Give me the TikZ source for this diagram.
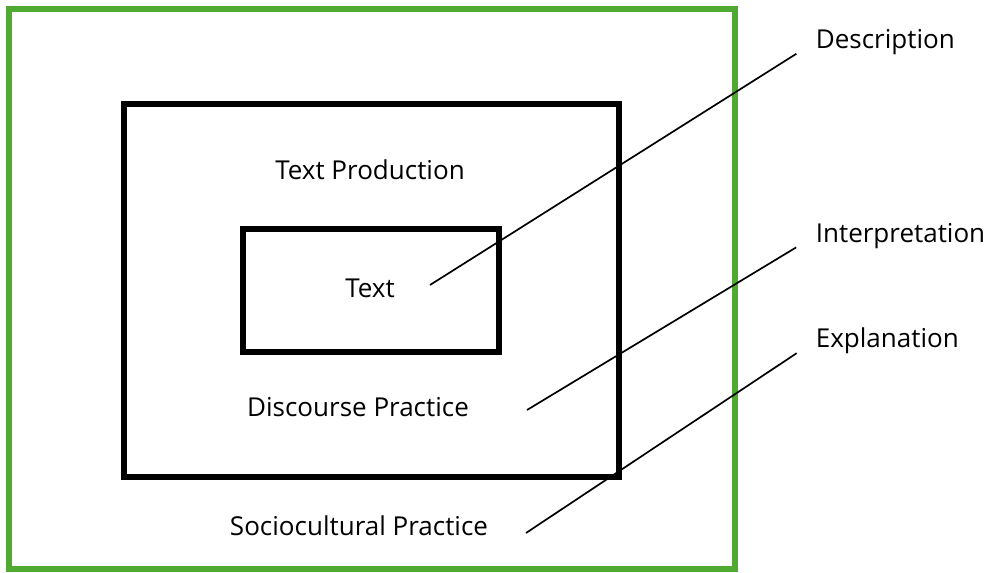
\documentclass[tikz,border=0pt]{standalone}
\usepackage{fontspec}
\setmainfont{Open Sans}
\usepackage{tikz}
\usetikzlibrary{positioning}

\definecolor{framegreen}{RGB}{80,170,50}

\begin{document}
\begin{tikzpicture}[
    x=0.025cm, y=-0.025cm,
    every node/.style={font=\fontsize{18.5}{22}\selectfont},
    frame box/.style={draw=framegreen, line width=1.3mm},
    level box/.style={draw=black, line width=1.3mm},
    level text/.style={inner sep=0pt},
    side label/.style={inner sep=0pt, anchor=west},
    every path/.style={line width=1.2pt}
    ]
    \useasboundingbox (0,0) rectangle (992,572);

    % Boxes
    \draw[frame box] (9,9) rectangle (735,569);
    \draw[level box] (124,104) rectangle (619,477);
    \draw[level box] (243,229) rectangle (499,352);

    % Texts in the boxes
    \node[level text] (production) at (370,170) {Text Production};
    \node[level text] (text) at (370,288) {Text};
    \node[level text] (discourse) at (358,407) {Discourse Practice};
    \node[level text] (sociocultural) at (359,526) {Sociocultural Practice};

    % Labels
    \node[side label] (description) at (815,42) {Description};
    \node[side label] (interpretation) at (815,236) {Interpretation};
    \node[side label] (explanation) at (815,341) {Explanation};

    \coordinate (d1) at (430,285);
    \coordinate (i1) at (527,410);
    \coordinate (e1) at (526,533);

    % Connections
    \foreach \a/\b in {d1/description, i1/interpretation, e1/explanation}
        \draw[shorten >=0.55cm] (\a) -- (\b.west);

\end{tikzpicture}
\end{document}
